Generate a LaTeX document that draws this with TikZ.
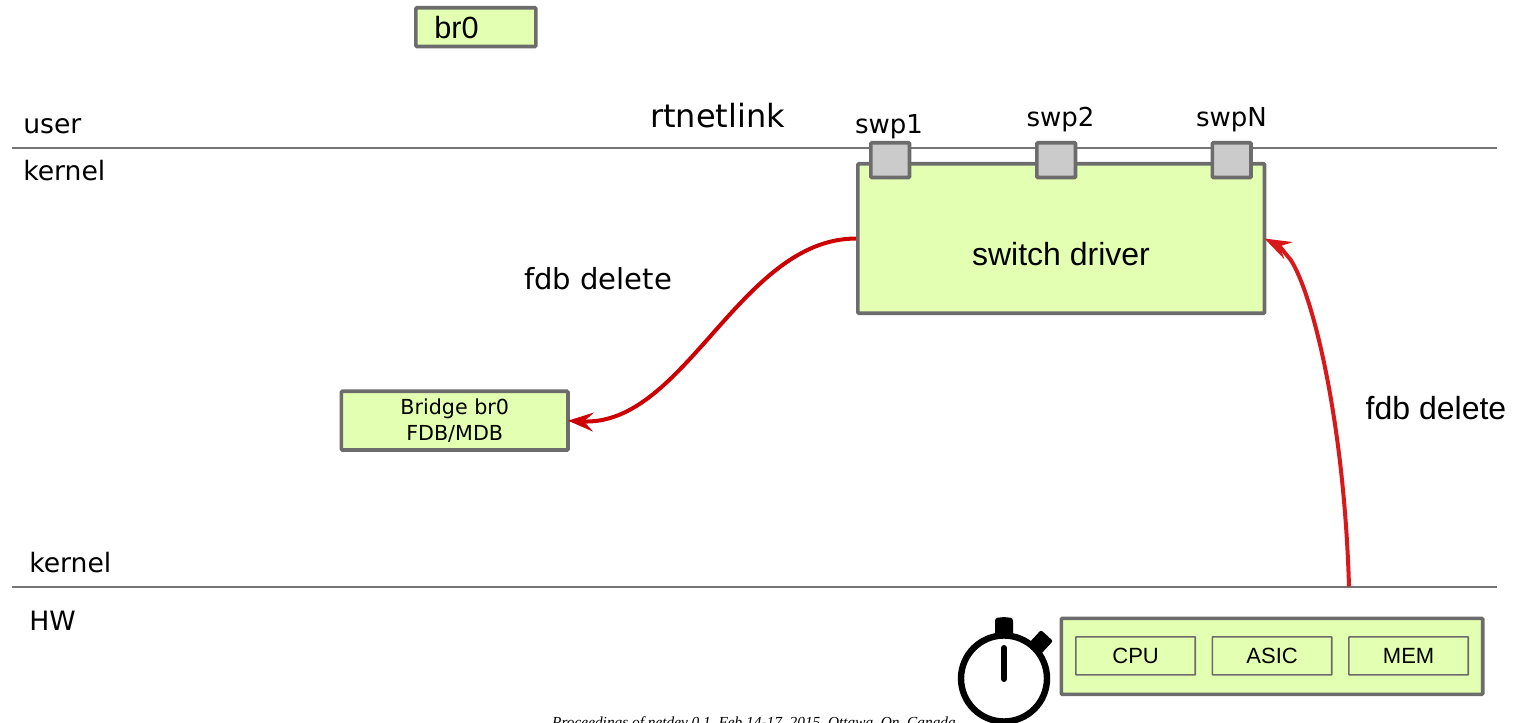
\documentclass[tikz,border=0pt]{standalone}
\usepackage{fontspec}
\setmainfont{DejaVu Sans}
\newfontfamily\arialf{Liberation Sans}
\newfontfamily\timesf{Liberation Serif}
\usetikzlibrary{arrows.meta,positioning,calc}
\definecolor{boxgreen}{HTML}{E3FFB1}
\definecolor{boxedge}{HTML}{6C6C6C}
\definecolor{portgrey}{HTML}{CBCBCB}
\definecolor{redA}{HTML}{CC0000}
\definecolor{redB}{HTML}{D7191C}
\definecolor{rulegrey}{HTML}{757575}
\tikzset{
  x=0.75pt,y=-0.75pt,
  greenbox/.style={draw=boxedge,fill=boxgreen,line width=2.8pt,rounded corners=0.8pt,inner sep=0pt,anchor=north west},
  innerbox/.style={draw=boxedge,fill=boxgreen,line width=1.3pt,rounded corners=0.4pt,inner sep=0pt,anchor=north west,minimum width=89.6pt,minimum height=28.5pt,font=\arialf\fontsize{16.5}{18}\selectfont},
  port/.style={draw=boxedge,fill=portgrey,line width=2.8pt,rounded corners=0.8pt,inner sep=0pt,anchor=north west,minimum width=29pt,minimum height=26pt},
  planelabel/.style={anchor=base west,inner sep=0pt,font=\fontsize{20}{22}\selectfont},
  portlabel/.style={anchor=base,inner sep=0pt,font=\fontsize{19.5}{22}\selectfont},
  redcurve/.style={line width=3pt},
  rulerline/.style={draw=rulegrey,line width=1.5pt},
  watch/.style={draw=black,line width=4.8pt},
}
\begin{document}
\begin{tikzpicture}
\useasboundingbox (0,0) rectangle (1517,723);
\clip (0,0) rectangle (1517,723);
\coordinate (ruleAL) at (12,148.5);
\coordinate (ruleAR) at (1497,148.5);
\coordinate (ruleBL) at (12,586.5);
\coordinate (ruleBR) at (1497,586.5);
\coordinate (hwsrc) at (1349,586.5);
\draw[rulerline] (ruleAL) -- (ruleAR);
\draw[rulerline] (ruleBL) -- (ruleBR);
\node[greenbox,minimum width=90pt,minimum height=29pt] (br) at (414,6) {};
\node[anchor=base west,inner sep=0pt,font=\arialf\fontsize{23}{24}\selectfont] (brt) at (434,39) {br0};
\node[planelabel] (user) at (23,134) {user};
\node[planelabel] (kernelA) at (23,181) {kernel};
\node[planelabel] (kernelB) at (29,572) {kernel};
\node[planelabel] (hw) at (29,630) {HW};
\node[anchor=base,inner sep=0pt,font=\fontsize{24}{26}\selectfont] (rt) at (717.5,128) {rtnetlink};
\node[greenbox,minimum width=305pt,minimum height=112pt] (driver) at (856,162) {};
\node[anchor=base,inner sep=0pt,font=\arialf\fontsize{24}{26}\selectfont] (drivert) at (1061,266) {switch driver};
\node[port] (p1) at (869,141) {};
\node[port] (p2) at (1035,141) {};
\node[port] (pn) at (1210.5,141) {};
\node[portlabel] (l1) at (889,134) {swp1};
\node[portlabel] (l2) at (1060.5,127) {swp2};
\node[portlabel] (ln) at (1231.5,127) {swpN};
\node[greenbox,minimum width=170pt,minimum height=44pt,align=center,font=\fontsize{15.5}{19}\selectfont] (bridge) at (339.5,389.5) {Bridge br0\\FDB/MDB};
\node[anchor=base,inner sep=0pt,font=\fontsize{21.8}{25}\selectfont] (fa) at (598,290) {fdb delete};
\node[anchor=base,inner sep=0pt,font=\arialf\fontsize{24}{26}\selectfont] (fb) at (1436,420) {fdb delete};
\draw[redcurve,draw=redA,-{Stealth[length=19pt,width=14pt,inset=7pt,fill=redA]}] (driver.west) .. controls +(-116,0) and +(117,6) .. ([xshift=-1.5pt]bridge.east);
\draw[redcurve,draw=redB,-{Stealth[length=20pt,width=14pt,inset=7pt,fill=redB]}] (hwsrc) .. controls +(-5,-170) and ($(driver.east)+(45,52)$) .. ($(driver.east)+(24,21)$) .. controls ($(driver.east)+(18,14)$) and ($(driver.east)+(14,8)$) .. ([xshift=-1.5pt]driver.east);
\node[greenbox,minimum width=316pt,minimum height=57pt] (hwbox) at (1059.5,616.5) {};
\node[innerbox] (cpu) at (1075,636) {CPU};
\node[innerbox] (asic) at (1211.5,636) {ASIC};
\node[innerbox] (mem) at (1348,636) {MEM};
\node[anchor=base,inner sep=0pt,font=\timesf\itshape\fontsize{11.5}{12}\selectfont] (foot) at (754,727) {Proceedings of netdev 0.1, Feb 14-17, 2015, Ottawa, On, Canada};
\draw[watch] (1004,678.5) ellipse (43 and 43);
\draw[black,line width=4.5pt,line cap=round] (1004,648) -- (1004,679);
\fill[black,rounded corners=2pt] (995,636) -- (995,618) -- (1004,617) -- (1013,618) -- (1013,636) -- cycle;
\fill[black,rounded corners=1.5pt] (1029,643) -- (1041,630) -- (1053,641) -- (1041,654) -- cycle;
\end{tikzpicture}
\end{document}
